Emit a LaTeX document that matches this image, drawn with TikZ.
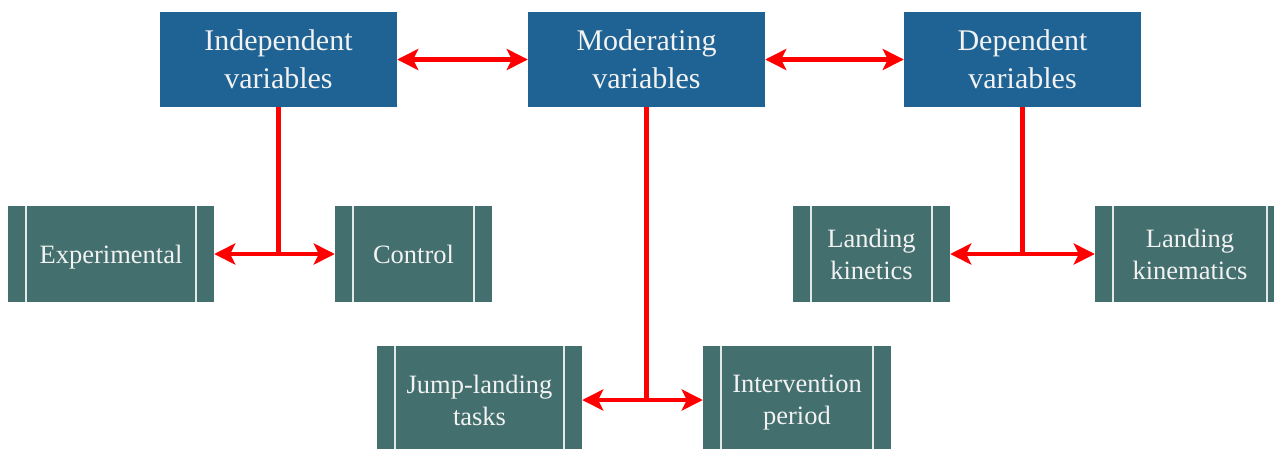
\documentclass[tikz,border=0pt]{standalone}
\usepackage{fontspec}
\setmainfont{Liberation Serif}
\usetikzlibrary{arrows.meta}
\definecolor{topblue}{RGB}{31,99,148}
\definecolor{teal}{RGB}{67,111,110}
\definecolor{txt}{RGB}{242,242,242}
\tikzset{
  topbox/.style={fill=topblue, draw=none, minimum width=237pt, minimum height=95pt,
    inner sep=0pt, text=txt, align=center, font=\rmfamily\fontsize{30}{38}\selectfont},
  procbox/.style={fill=teal, draw=none, minimum height=96pt, inner sep=0pt, text depth=0pt,
    text=txt, align=center, font=\rmfamily\fontsize{26.5}{32}\selectfont,
    path picture={
      \draw[white!85!teal, line width=1.2pt]
        ([xshift=18pt]path picture bounding box.north west) -- ([xshift=18pt]path picture bounding box.south west)
        ([xshift=-18pt]path picture bounding box.north east) -- ([xshift=-18pt]path picture bounding box.south east);
    }},
  redline/.style={draw=red, line width=4.5pt},
  biarrow/.style={redline, {Stealth[length=21pt,width=21pt,inset=5pt]}-{Stealth[length=21pt,width=21pt,inset=5pt]}}
}
\begin{document}
\begin{tikzpicture}[x=1pt,y=-1pt]
\clip (0,0) rectangle (1274,448);
\fill[white] (0,0) rectangle (1274,448);
% top row
\node[topbox] (ind) at (278.5,59.5) {Independent\\variables};
\node[topbox] (mod) at (646.5,59.5) {Moderating\\variables};
\node[topbox] (dep) at (1022.5,59.5) {Dependent\\variables};
% second row
\node[procbox, minimum width=206pt] (exp) at (111,254) {Experimental};
\node[procbox, minimum width=157pt] (ctl) at (413.5,254) {Control};
\node[procbox, minimum width=157pt] (kin) at (871.5,254) {Landing\\kinetics};
\node[procbox, minimum width=190pt] (kmt) at (1190,254) {Landing\\kinematics};
% third row
\node[procbox, minimum width=205pt, minimum height=108pt] (jmp) at (479.5,400) {Jump-landing\\tasks};
\node[procbox, minimum width=188pt, minimum height=108pt] (itv) at (797,400) {Intervention\\period};
% connectors
\draw[biarrow] (ind) -- (mod);
\draw[biarrow] (mod) -- (dep);
\draw[redline] (ind.south) -- (ind.south |- exp.east);
\draw[biarrow] (exp.east) -- (ctl.west);
\draw[redline] (mod.south) -- (mod.south |- jmp.east);
\draw[biarrow] (jmp.east) -- (itv.west);
\draw[redline] (dep.south) -- (dep.south |- kin.east);
\draw[biarrow] (kin.east) -- (kmt.west);
\end{tikzpicture}
\end{document}
